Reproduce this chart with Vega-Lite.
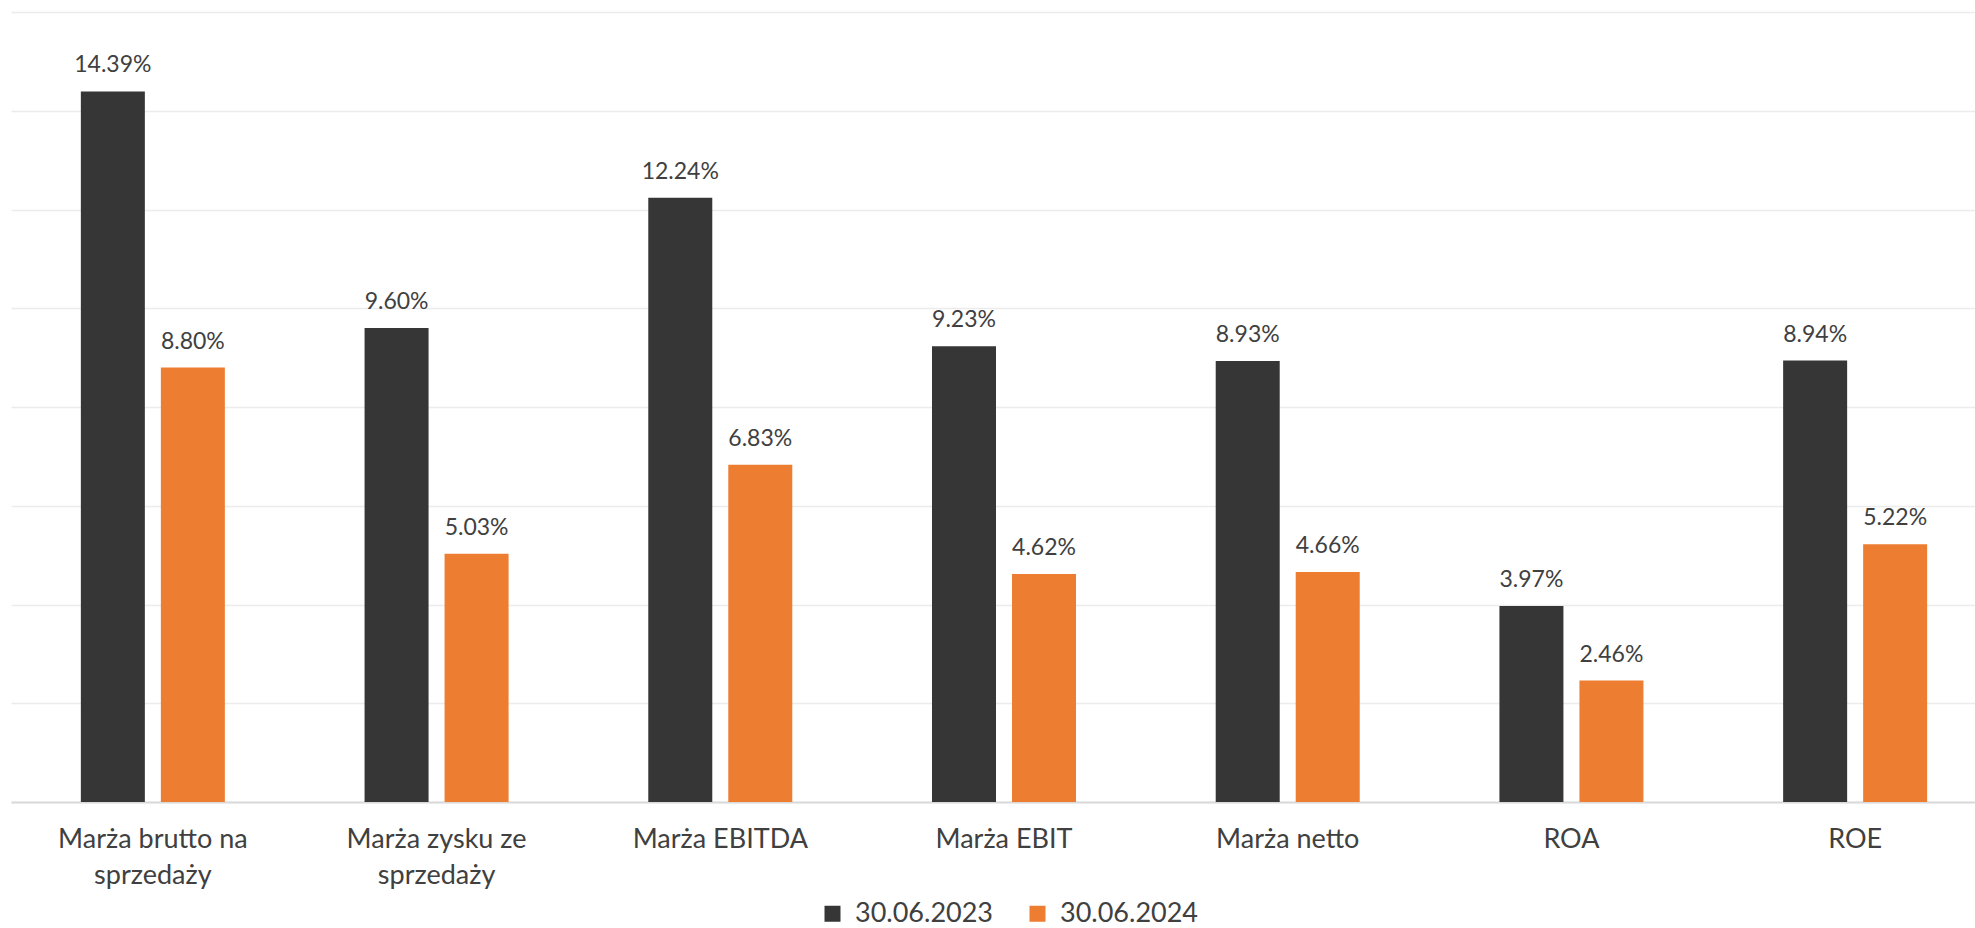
{
  "$schema": "https://vega.github.io/schema/vega-lite/v6.json",
  "width": 1964,
  "height": 790,
  "autosize": {"type": "none"},
  "padding": {"left": 11, "top": 12, "right": 0, "bottom": 126},
  "background": "white",
  "config": {"view": {"stroke": null}, "font": "Lato"},
  "data": {
    "values": [
      {"kategoria": "Marża brutto na sprzedaży", "okres": "30.06.2023", "wartosc": 0.1439},
      {"kategoria": "Marża brutto na sprzedaży", "okres": "30.06.2024", "wartosc": 0.088},
      {"kategoria": "Marża zysku ze sprzedaży", "okres": "30.06.2023", "wartosc": 0.096},
      {"kategoria": "Marża zysku ze sprzedaży", "okres": "30.06.2024", "wartosc": 0.0503},
      {"kategoria": "Marża EBITDA", "okres": "30.06.2023", "wartosc": 0.1224},
      {"kategoria": "Marża EBITDA", "okres": "30.06.2024", "wartosc": 0.0683},
      {"kategoria": "Marża EBIT", "okres": "30.06.2023", "wartosc": 0.0923},
      {"kategoria": "Marża EBIT", "okres": "30.06.2024", "wartosc": 0.0462},
      {"kategoria": "Marża netto", "okres": "30.06.2023", "wartosc": 0.0893},
      {"kategoria": "Marża netto", "okres": "30.06.2024", "wartosc": 0.0466},
      {"kategoria": "ROA", "okres": "30.06.2023", "wartosc": 0.0397},
      {"kategoria": "ROA", "okres": "30.06.2024", "wartosc": 0.0246},
      {"kategoria": "ROE", "okres": "30.06.2023", "wartosc": 0.0894},
      {"kategoria": "ROE", "okres": "30.06.2024", "wartosc": 0.0522}
    ]
  },
  "encoding": {
    "x": {
      "field": "kategoria",
      "type": "nominal",
      "sort": null,
      "scale": {"range": [0, 1986], "paddingInner": 0.4924, "paddingOuter": 0.2462},
      "axis": {
        "title": null,
        "labelAngle": 0,
        "domain": true,
        "domainColor": "#d9d9d9",
        "domainWidth": 2,
        "ticks": false,
        "labelFontSize": 27,
        "labelColor": "#404040",
        "labelPadding": 24,
        "labelLineHeight": 36,
        "labelLimit": 0,
        "grid": false,
        "labelExpr": "datum.value == 'Marża brutto na sprzedaży' ? ['Marża brutto na', 'sprzedaży'] : datum.value == 'Marża zysku ze sprzedaży' ? ['Marża zysku ze', 'sprzedaży'] : datum.value"
      }
    },
    "xOffset": {"field": "okres", "type": "nominal", "scale": {"paddingInner": 0.2}},
    "y": {
      "field": "wartosc",
      "type": "quantitative",
      "scale": {"domain": [0, 0.16]},
      "axis": {
        "title": null,
        "labels": false,
        "ticks": false,
        "domain": false,
        "grid": true,
        "gridColor": "#ececec",
        "gridWidth": 1.5,
        "values": [0, 0.02, 0.04, 0.06, 0.08, 0.1, 0.12, 0.14, 0.16]
      }
    }
  },
  "layer": [
    {
      "mark": {"type": "bar"},
      "encoding": {
        "color": {
          "field": "okres",
          "type": "nominal",
          "scale": {"domain": ["30.06.2023", "30.06.2024"], "range": ["#363636", "#ED7D31"]},
          "legend": {
            "title": null,
            "orient": "none",
            "direction": "horizontal",
            "legendX": 808,
            "legendY": 888,
            "symbolType": "square",
            "symbolSize": 256,
            "symbolStrokeWidth": 0,
            "labelFontSize": 27,
            "labelColor": "#404040",
            "labelOffset": 9,
            "columnPadding": 30,
            "labelLimit": 0
          }
        }
      }
    },
    {
      "mark": {"type": "text", "baseline": "bottom", "dy": -14, "fontSize": 23, "color": "#404040"},
      "encoding": {"text": {"field": "wartosc", "type": "quantitative", "format": ".2%"}}
    }
  ]
}
